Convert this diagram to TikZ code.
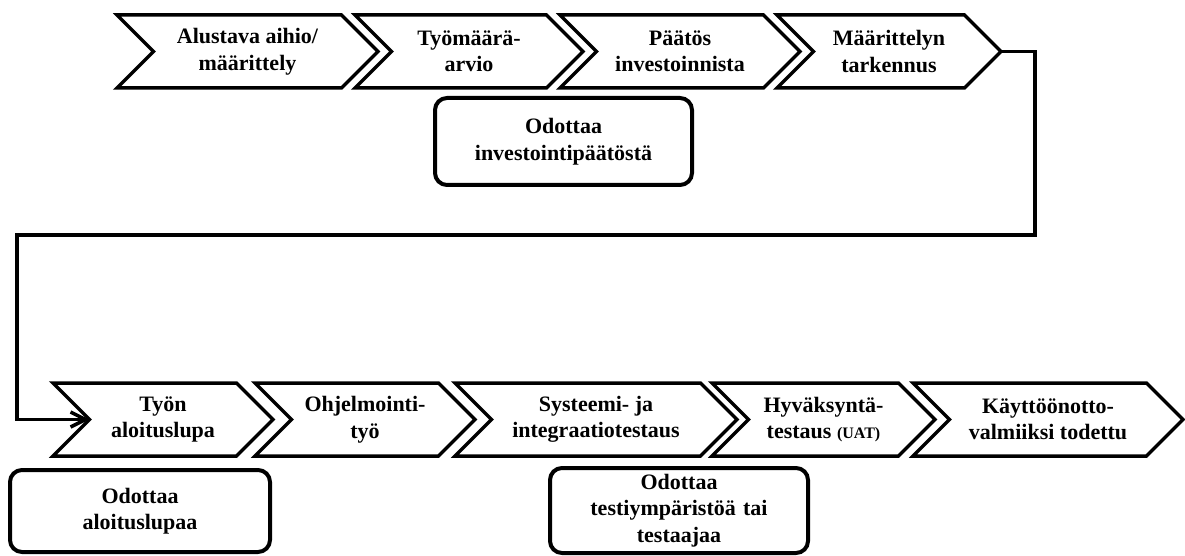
\documentclass[tikz,border=0pt]{standalone}
\usepackage{fontspec}
\setmainfont{Liberation Serif}
\usetikzlibrary{arrows.meta,positioning,shapes.symbols}

\begin{document}
\begin{tikzpicture}[
    x=1pt,y=-1pt,
    font=\bfseries\fontsize{22}{26.5}\selectfont,
    stage/.style={draw=black,line width=3.5pt,signal,signal from=west,signal to=east,signal pointer angle=90,minimum height=73pt,minimum width=#1,align=center,inner sep=2pt,outer sep=0pt},
    wait/.style={draw=black,line width=4pt,rounded corners=12pt,align=center,text width=#1,inner sep=0pt,outer sep=0pt},
    arr/.style={-{Straight Barb[length=15pt,width=15pt]},line width=3.5pt}
  ]
  \useasboundingbox (0,0) rectangle (1185,556);

  % upper row
  \node[stage=261pt] (aihio) at (247.5,51.5) {Alustava aihio/\\määrittely};
  \node[stage=228pt] (arvio) at (469,51.5) {Työmäärä-\\arvio};
  \node[stage=240pt] (paatos) at (680,51.5) {Päätös\\investoinnista};
  \node[stage=224pt] (tarkennus) at (889,51.5) {Määrittelyn\\tarkennus};
  \node[wait=257pt,minimum height=87pt] (odotinv) at (563.5,141.5) {Odottaa\\investointipäätöstä};

  % lower row
  \node[stage=220pt] (lupa) at (163,419.5) {Työn\\aloituslupa};
  \node[stage=220pt] (ohjelmointi) at (365,419.5) {Ohjelmointi-\\työ};
  \node[stage=282pt] (systeemi) at (596,419.5) {Systeemi- ja\\integraatiotestaus};
  \node[stage=223pt] (uat) at (823.5,419.5) {Hyväksyntä-\\testaus {\fontsize{16}{26}\selectfont(UAT)}};
  \node[stage=270pt] (valmis) at (1048,419.5) {Käyttöönotto-\\valmiiksi todettu};
  \node[wait=260pt,minimum height=82pt] (odotlupa) at (140,511) {Odottaa\\aloituslupaa};
  \node[wait=258pt,minimum height=85pt] (odottest) at (679,510.5) {Odottaa\\testiympäristöä tai\\testaajaa};

  % return line
  \coordinate (kulmaO) at (1035,235);
  \coordinate (kulmaV) at (17,235);
  \draw[arr] (tarkennus.east) -| (kulmaO) -- (kulmaV) |- (lupa.west);
\end{tikzpicture}
\end{document}
